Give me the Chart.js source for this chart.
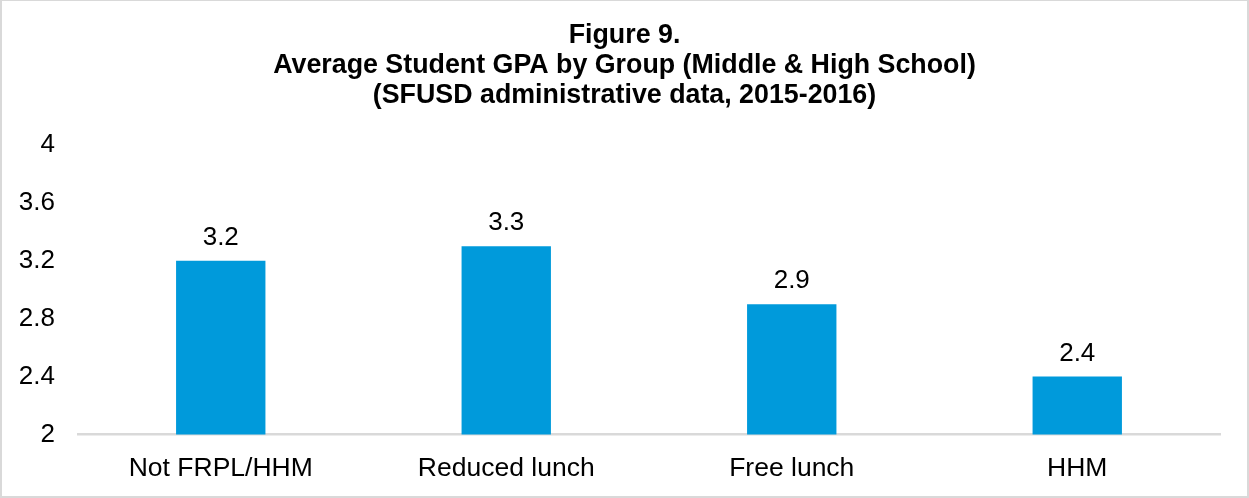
<!DOCTYPE html>
<html>
<head>
<meta charset="utf-8">
<script src="https://cdn.jsdelivr.net/npm/chart.js@4/dist/chart.umd.min.js"></script>
<style>
  html, body { margin: 0; padding: 0; background: #fff; }
  #wrap {
    width: 1249px; height: 498px; box-sizing: border-box;
    border-style: solid; border-color: #d9d9d9;
    border-width: 1px 2px 2px 2px;
    position: relative;
  }
  #wrap canvas { display: block; }
</style>
</head>
<body>
<div id="wrap"><canvas id="gpaChart" width="1245" height="495"></canvas></div>
<script>
const categories = ['Not FRPL/HHM', 'Reduced lunch', 'Free lunch', 'HHM'];
const gpaValues = [3.2, 3.3, 2.9, 2.4];
const titleLines = [
  'Figure 9.',
  'Average Student GPA by Group (Middle & High School)',
  '(SFUSD administrative data, 2015-2016)'
];
const yMin = 2;
const yMax = 4;
const yStep = 0.4;

const FONT = "Arial, 'Liberation Sans', sans-serif";

// Title centred on the whole figure (not on the chart area)
const figureTitle = {
  id: 'figureTitle',
  afterDraw(chart) {
    const ctx = chart.ctx;
    ctx.save();
    ctx.font = 'bold 26.8px ' + FONT;
    ctx.fillStyle = '#000';
    ctx.textAlign = 'center';
    ctx.textBaseline = 'middle';
    titleLines.forEach((line, i) => {
      ctx.fillText(line, chart.width / 2, 35 + i * 30);
    });
    ctx.restore();
  }
};

// Value labels above bars
const valueLabels = {
  id: 'valueLabels',
  afterDatasetsDraw(chart) {
    const ctx = chart.ctx;
    const meta = chart.getDatasetMeta(0);
    ctx.save();
    ctx.font = '26px ' + FONT;
    ctx.fillStyle = '#000';
    ctx.textAlign = 'center';
    ctx.textBaseline = 'alphabetic';
    meta.data.forEach((bar, i) => {
      ctx.fillText(gpaValues[i].toFixed(1), bar.x, bar.y - 16);
    });
    ctx.restore();
  }
};

new Chart(document.getElementById('gpaChart').getContext('2d'), {
  type: 'bar',
  data: {
    labels: categories,
    datasets: [{
      data: gpaValues,
      backgroundColor: '#009ADB',
      borderWidth: 0,
      barPercentage: 0.313,
      categoryPercentage: 1
    }]
  },
  options: {
    responsive: false,
    animation: false,
    layout: { padding: { left: 0, right: 27, top: 144, bottom: 0 } },
    plugins: {
      legend: { display: false },
      tooltip: { enabled: false },
      title: { display: false }
    },
    scales: {
      x: {
        grid: { display: false, drawTicks: false },
        border: { display: true, color: '#d9d9d9', width: 2.5 },
        ticks: { color: '#000', font: { family: FONT, size: 26.5 }, padding: 18, maxRotation: 0 },
        afterFit: s => { s.height = 61.5; }
      },
      y: {
        min: yMin,
        max: yMax,
        grid: { display: false, drawTicks: false },
        border: { display: false },
        ticks: {
          stepSize: yStep,
          color: '#000',
          font: { family: FONT, size: 26 },
          padding: 23,
          callback: v => String(+v.toFixed(1))
        },
        afterFit: s => { s.width = 76; }
      }
    }
  },
  plugins: [valueLabels, figureTitle]
});
</script>
</body>
</html>
